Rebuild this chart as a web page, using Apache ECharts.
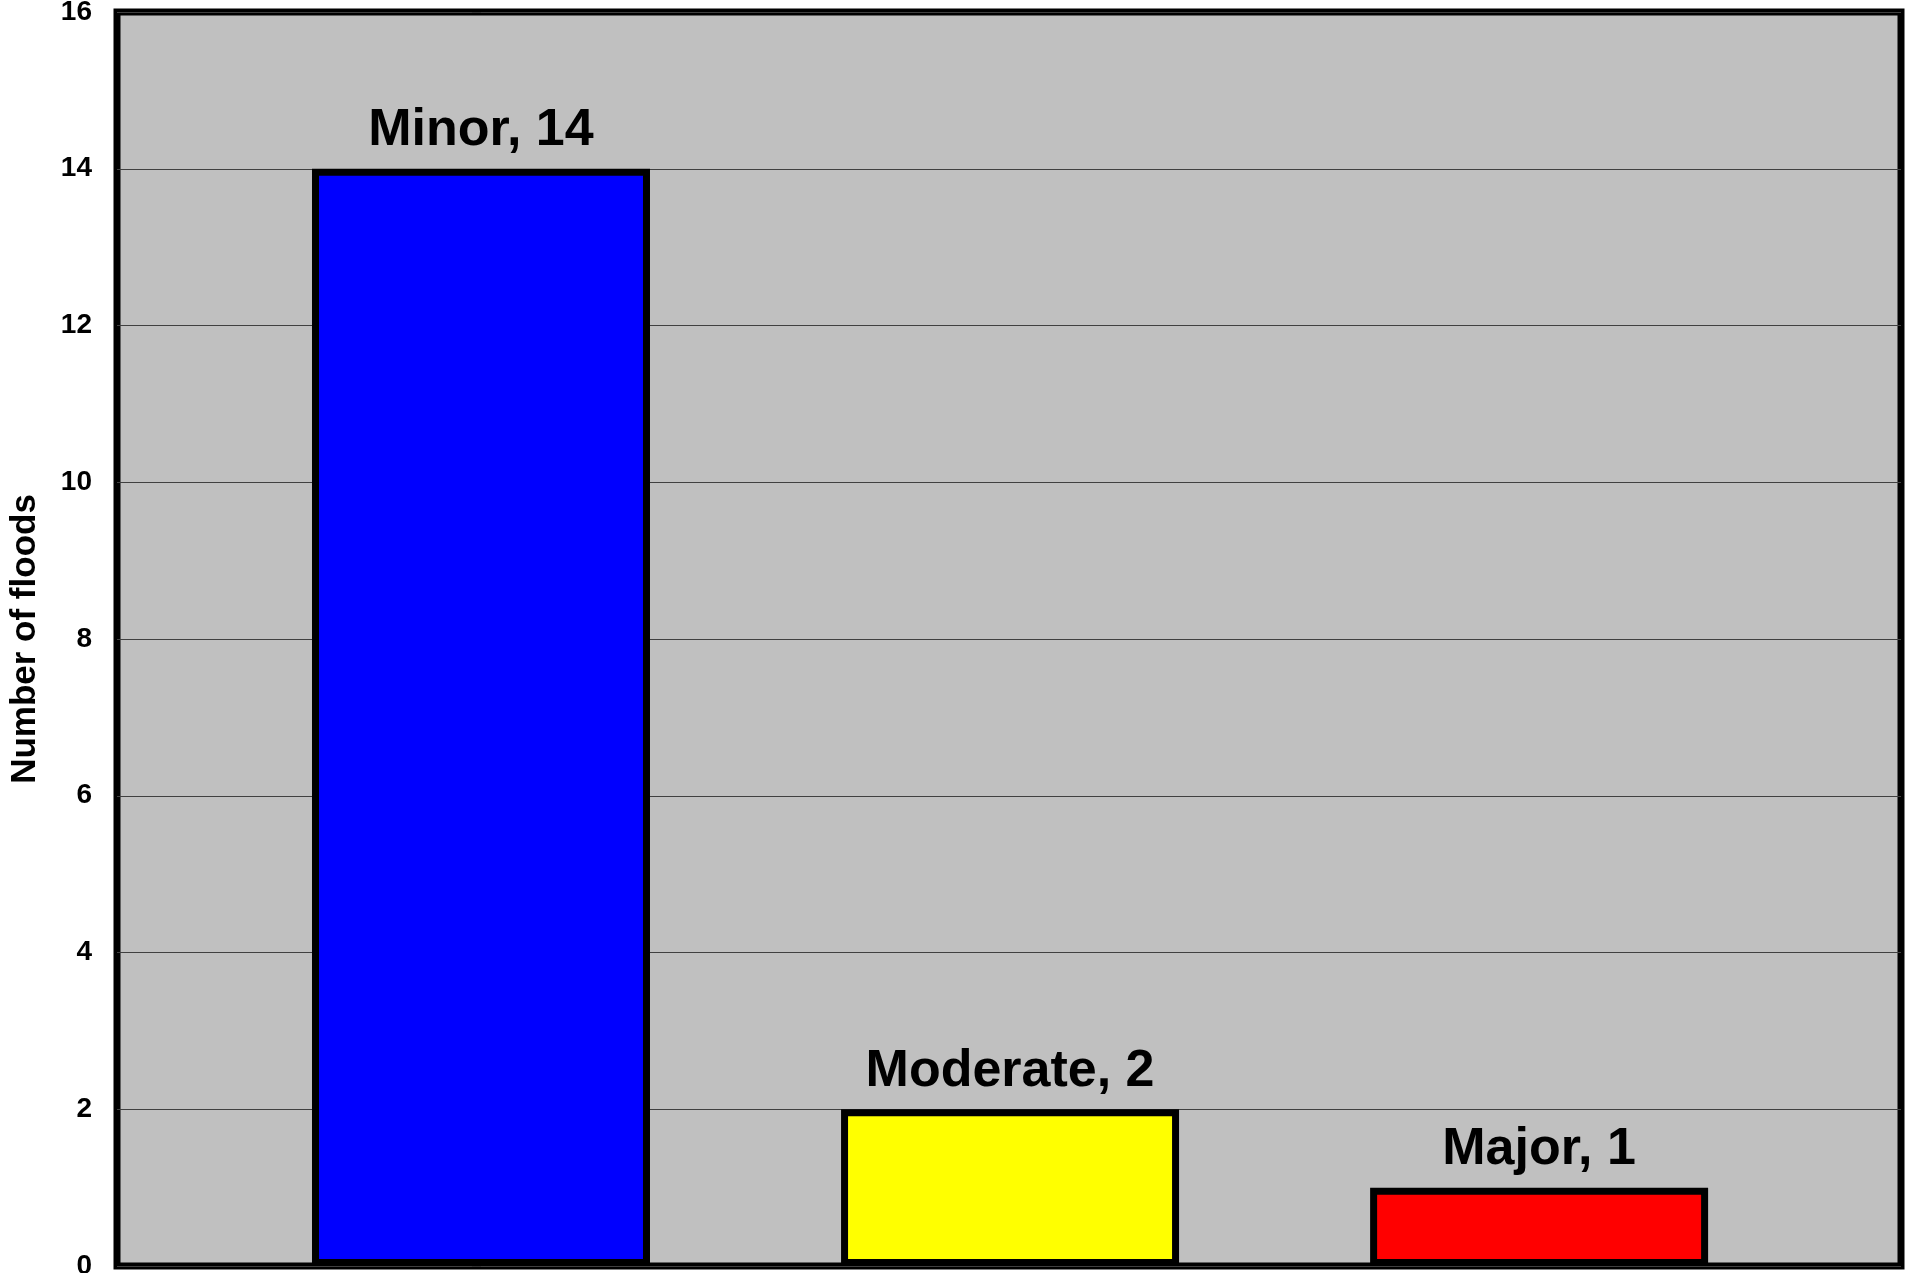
<!DOCTYPE html>
<html>
<head>
<meta charset="utf-8">
<title>Number of floods</title>
<script src="https://cdn.jsdelivr.net/npm/echarts@6/dist/echarts.min.js"></script>
<style>
  html, body { margin: 0; padding: 0; background: #fff; }
  #flood_chart { width: 1912px; height: 1273px; }
</style>
</head>
<body>
<div id="flood_chart"></div>
<script>
// data
const categories = ['Minor', 'Moderate', 'Major'];
const floodCounts = [14, 2, 1];
const yMin = 0;
const yMax = 16;
const yStep = 2;

// bar fill per category
const barColors = ['#0000ff', '#ffff00', '#ff0000'];

const FONT = '"Liberation Sans", Arial, sans-serif';

function getChartOption() {
  let seriesData = [];
  categories.forEach((name, i) => {
    seriesData.push({
      value: [i, floodCounts[i]],
      name: name,
      itemStyle: { color: barColors[i] }
    });
  });

  let option = {
    animation: false,
    grid: {
      left: 117,
      right: 11,
      top: 12,
      bottom: 7,
      outerBoundsMode: 'none',
      show: true,
      backgroundColor: '#c0c0c0',
      borderColor: '#000',
      borderWidth: 7
    },
    xAxis: {
      type: 'value',
      min: -0.688,
      max: categories.length - 1 + 0.684,
      axisLine: { show: false },
      axisTick: { show: false },
      axisLabel: { show: false },
      splitLine: { show: false }
    },
    yAxis: {
      type: 'value',
      min: yMin,
      max: yMax,
      interval: yStep,
      name: 'Number of floods',
      nameLocation: 'middle',
      nameRotate: 90,
      nameGap: 74,
      nameTextStyle: {
        color: '#000',
        fontFamily: FONT,
        fontWeight: 'bold',
        fontSize: 35
      },
      axisLine: { show: false },
      axisTick: {
        show: true,
        length: 9,
        lineStyle: { color: '#333', width: 1 }
      },
      axisLabel: {
        margin: 25,
        color: '#000',
        fontFamily: FONT,
        fontWeight: 'bold',
        fontSize: 28
      },
      splitLine: {
        lineStyle: { color: '#404040', width: 1 }
      }
    },
    series: [{
      type: 'bar',
      barWidth: 338,
      itemStyle: {
        borderColor: '#000',
        borderWidth: 7
      },
      label: {
        show: true,
        position: 'top',
        distance: 12,
        color: '#000',
        fontFamily: FONT,
        fontWeight: 'bold',
        fontSize: 52,
        formatter: p => p.name + ', ' + p.value[1]
      },
      data: seriesData
    }]
  };
  return option;
}

let myChart = echarts.init(document.getElementById('flood_chart'));
myChart.setOption(getChartOption());
</script>
</body>
</html>
